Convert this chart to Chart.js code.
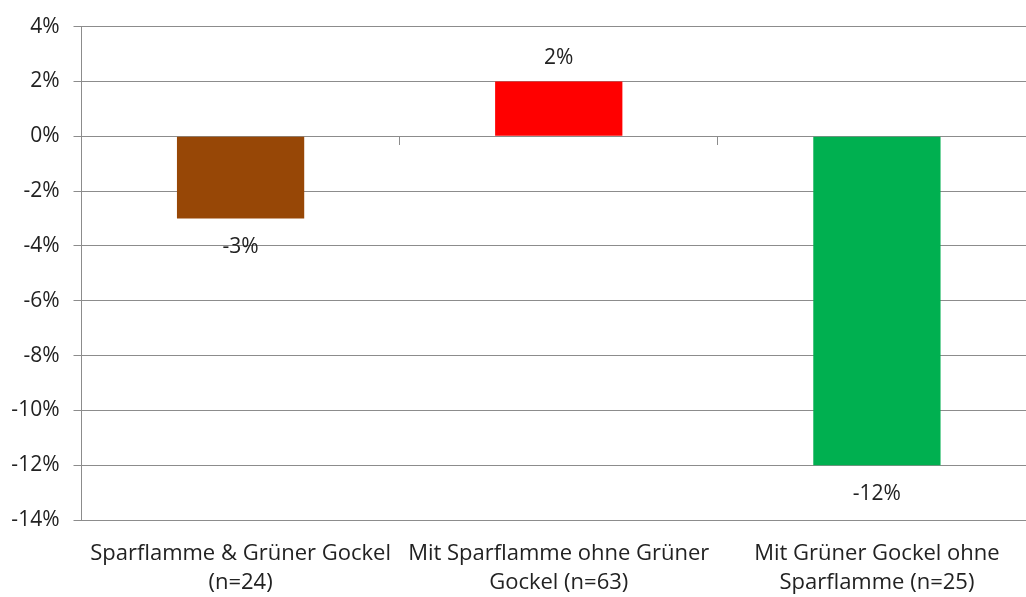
<!DOCTYPE html>
<html>
<head>
<meta charset="utf-8">
<script src="https://cdn.jsdelivr.net/npm/chart.js@4/dist/chart.umd.min.js"></script>
<style>
html,body{margin:0;padding:0;background:#fff;overflow:hidden;}
#wrap{width:1037px;height:597px;position:relative;}
</style>
</head>
<body>
<div id="wrap"><canvas id="c" width="1037" height="597"></canvas></div>
<script>
const categories = [
  ["Sparflamme & Grüner Gockel", "(n=24)"],
  ["Mit Sparflamme ohne Grüner", "Gockel (n=63)"],
  ["Mit Grüner Gockel ohne", "Sparflamme (n=25)"]
];
const values = [-3, 2, -12];
const barColors = ["#974706", "#FF0000", "#00B050"];
const yMin = -14, yMax = 4, yStep = 2;

const FONT = "'Open Sans', sans-serif";
const TEXT = "#222222";
const GRID = "#8c8c8c";

const labelPlugin = {
  id: 'barLabels',
  afterDatasetsDraw(chart) {
    const ctx = chart.ctx;
    const meta = chart.getDatasetMeta(0);
    ctx.save();
    ctx.font = "21px " + FONT;
    ctx.fillStyle = TEXT;
    ctx.textAlign = 'center';
    ctx.textBaseline = 'middle';
    meta.data.forEach((bar, i) => {
      const v = values[i];
      const y = v >= 0 ? bar.y - 23 : bar.y + 29;
      ctx.fillText(v + '%', bar.x, y);
    });
    ctx.restore();
  }
};

new Chart(document.getElementById('c'), {
  type: 'bar',
  data: {
    labels: categories,
    datasets: [{
      data: values,
      backgroundColor: barColors,
      borderWidth: 0,
      barPercentage: 0.4,
      categoryPercentage: 1.0
    }]
  },
  options: {
    responsive: false,
    animation: false,
    events: [],
    layout: { padding: { top: 25, right: 1, left: 0, bottom: 0 } },
    plugins: { legend: { display: false }, tooltip: { enabled: false } },
    scales: {
      x: {
        position: 'bottom',
        offset: true,
        grid: { display: true, drawOnChartArea: false, drawTicks: false },
        border: { display: false },
        ticks: {
          color: TEXT,
          font: { family: FONT, size: 22, lineHeight: 1.32 },
          padding: 19,
          maxRotation: 0,
          autoSkip: false
        },
        afterFit(s) { s.height = 77; }
      },
      x0: {
        position: { y: 0 },
        offset: true,
        grid: { display: true, drawOnChartArea: false, drawTicks: true, tickLength: 8, color: GRID, offset: true },
        border: { display: true, color: GRID, width: 1 },
        ticks: { display: false }
      },
      y: {
        min: yMin,
        max: yMax,
        grid: { color: GRID, tickLength: 8, lineWidth: 1 },
        border: { display: true, color: GRID },
        ticks: {
          stepSize: yStep,
          color: TEXT,
          font: { family: FONT, size: 21 },
          padding: 14,
          callback: v => v + '%'
        },
        afterFit(s) { s.width = 81.5; }
      }
    }
  },
  plugins: [labelPlugin]
});
</script>
</body>
</html>
